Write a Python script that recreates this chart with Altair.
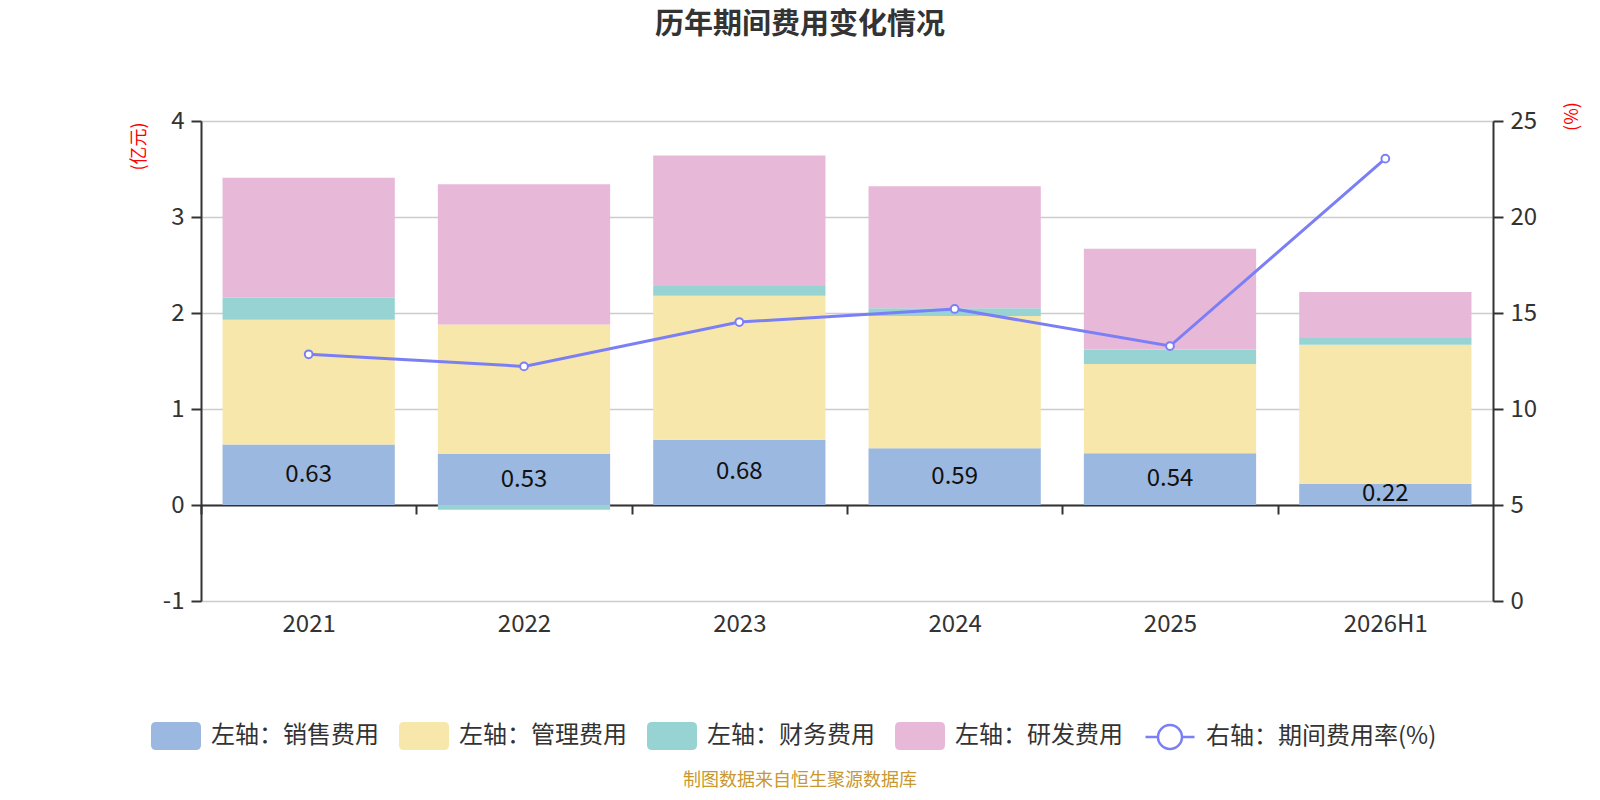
import altair as alt
import pandas as pd

years = ["2021", "2022", "2023", "2024", "2025", "2026H1"]
sales = [0.63, 0.53, 0.68, 0.59, 0.54, 0.22]
admin = [1.30, 1.35, 1.50, 1.38, 0.93, 1.45]
finance = [0.23, -0.05, 0.10, 0.08, 0.15, 0.07]
rnd = [1.25, 1.46, 1.36, 1.27, 1.05, 0.48]
rate = [12.85, 12.22, 14.53, 15.21, 13.28, 23.04]

series_names = ["左轴：销售费用", "左轴：管理费用", "左轴：财务费用", "左轴：研发费用"]
line_name = "右轴：期间费用率(%)"
bar_colors = ["#9bb8e1", "#f8e7aa", "#97d3d3", "#e7b8d8"]
line_color = "#7b7ff5"
title_text = "历年期间费用变化情况"
footer_text = "制图数据来自恒生聚源数据库"

FONT = "Noto Sans CJK SC"

rows = []
for i, y in enumerate(years):
    for k, (name, vals) in enumerate(zip(series_names, [sales, admin, finance, rnd])):
        rows.append({"year": y, "series": name, "value": vals[i], "order": k})
df_bar = pd.DataFrame(rows)
df_sales = pd.DataFrame({"year": years, "sales": sales})
df_line = pd.DataFrame({"year": years, "rate": rate, "series": [line_name] * len(years)})
df_text = pd.DataFrame({"t": [title_text]})
df_footer = pd.DataFrame({"t": [footer_text]})

RECT_PATH = ("M-0.8,-0.56 L0.8,-0.56 Q1,-0.56 1,-0.36 L1,0.36 Q1,0.56 0.8,0.56 "
             "L-0.8,0.56 Q-1,0.56 -1,0.36 L-1,-0.36 Q-1,-0.56 -0.8,-0.56 Z")
LINE_PATH = ("M-1,0 L-0.49,0 M0.49,0 L1,0 M-0.49,0 A0.49,0.49 0 1,1 0.49,0 "
             "A0.49,0.49 0 1,1 -0.49,0 Z")

PLOT_W, PLOT_H = 1292, 480
x_scale = alt.Scale(paddingInner=0.2, paddingOuter=0.1)
left_scale = alt.Scale(domain=[-1, 4], nice=False, zero=False)
right_scale = alt.Scale(domain=[0, 25], nice=False, zero=False)

half_gap = PLOT_W / len(years) * 0.2 / 2

x_axis = alt.Axis(
    title=None, orient="bottom", offset=-96, bandPosition=0, tickOffset=-half_gap,
    labelOffset=half_gap,
    domainColor="#333", domainWidth=2, tickColor="#333", tickWidth=2, tickSize=9,
    labelFontSize=24, labelColor="#333", labelPadding=98, labelAngle=0, grid=False,
)
left_axis = alt.Axis(
    title="(亿元)", values=[-1, 0, 1, 2, 3, 4], labelExpr="datum.value + ''",
    grid=True, gridColor="#cccccc", gridWidth=1.5,
    domainColor="#333", domainWidth=2, tickColor="#333", tickWidth=2, tickSize=10,
    labelFontSize=24, labelColor="#333", labelPadding=7,
    titleColor="#ff0000", titleFontSize=18, titleFontWeight="normal",
    titleAngle=270, titleX=-62, titleY=25, titleAlign="center", titleBaseline="middle",
)
right_axis = alt.Axis(
    title="(%)", orient="right", values=[0, 5, 10, 15, 20, 25], labelExpr="datum.value + ''",
    grid=False,
    domainColor="#333", domainWidth=2, tickColor="#333", tickWidth=2, tickSize=10,
    labelFontSize=24, labelColor="#333", labelPadding=7,
    titleColor="#ff0000", titleFontSize=18, titleFontWeight="normal",
    titleAngle=270, titleX=79, titleY=-5, titleAlign="center", titleBaseline="middle",
)

X = alt.X("year:N", sort=years, scale=x_scale, axis=x_axis)

bars = alt.Chart(df_bar).mark_bar().encode(
    x=X,
    y=alt.Y("sum(value):Q", stack="zero", scale=left_scale, axis=left_axis),
    color=alt.Color(
        "series:N",
        scale=alt.Scale(domain=series_names, range=bar_colors),
        legend=alt.Legend(
            orient="none", legendX=-50, legendY=590, direction="horizontal", title=None,
            symbolType=RECT_PATH, symbolSize=2500, symbolStrokeWidth=0, symbolOpacity=1,
            labelFontSize=24, labelColor="#333", labelOffset=10, columnPadding=20,
            labelLimit=400, padding=0, labelFont=FONT,
        ),
    ),
    order=alt.Order("order:Q", sort="ascending"),
)

labels = alt.Chart(df_sales).transform_calculate(mid="datum.sales / 2").mark_text(
    fontSize=24, color="#111", baseline="middle", align="center", font=FONT
).encode(
    x=X,
    y=alt.Y("mid:Q", scale=left_scale, axis=None),
    text=alt.Text("sales:Q", format=".2f"),
)

line = alt.Chart(df_line).mark_line(strokeWidth=3).encode(
    x=X,
    y=alt.Y("rate:Q", scale=right_scale, axis=right_axis),
    stroke=alt.Stroke(
        "series:N",
        scale=alt.Scale(domain=[line_name], range=[line_color]),
        legend=alt.Legend(
            orient="none", legendX=943, legendY=590, direction="horizontal", title=None,
            symbolType=LINE_PATH, symbolSize=2401, symbolStrokeWidth=2.5,
            symbolFillColor="white", labelFontSize=24, labelColor="#333", labelOffset=10,
            labelLimit=400, padding=0, labelFont=FONT,
        ),
    ),
)
points = alt.Chart(df_line).mark_point(
    shape="circle", fill="white", stroke=line_color, strokeWidth=2, size=60, opacity=1
).encode(
    x=X,
    y=alt.Y("rate:Q", scale=right_scale, axis=None),
)

title_mark = alt.Chart(df_text).mark_text(
    fontSize=29, fontWeight="bold", color="#333", align="center", baseline="middle",
    font="Liberation Sans, Noto Sans CJK SC"
).encode(text="t:N", x=alt.value(599), y=alt.value(-96))

footer = alt.Chart(df_footer).mark_text(
    fontSize=18, color="#c9982f", align="center", baseline="middle", font=FONT
).encode(text="t:N", x=alt.value(599), y=alt.value(660))

chart = alt.layer(bars, labels, line, points, title_mark, footer).resolve_scale(
    y="independent"
).properties(
    width=PLOT_W, height=PLOT_H,
    autosize=alt.AutoSizeParams(type="none"),
    padding={"left": 193, "top": 113, "right": 95, "bottom": 191},
).configure(
    font=FONT,
).configure_view(stroke=None)

chart.save("out.html", embed_options={"renderer": "svg", "actions": False})
